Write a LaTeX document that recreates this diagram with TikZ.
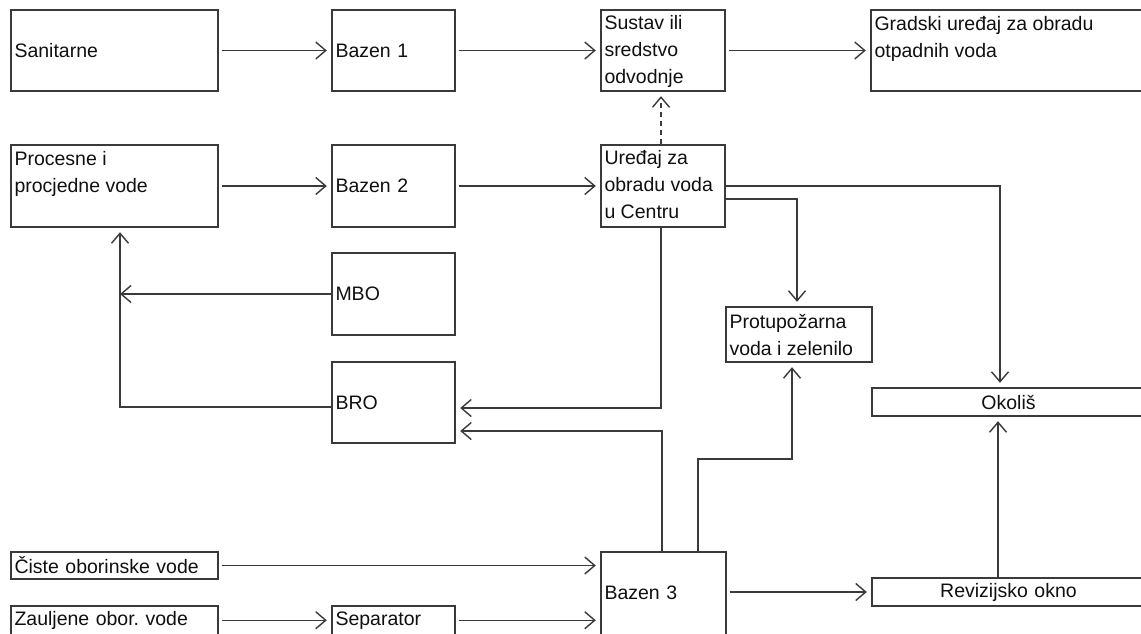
\documentclass[tikz,border=0pt]{standalone}
\usepackage{fontspec}
\setmainfont{Liberation Sans}
\usetikzlibrary{arrows.meta,calc}
\definecolor{lc}{HTML}{3A3A3A}
\definecolor{tc}{HTML}{101010}
\frenchspacing
\begin{document}
\begin{tikzpicture}[x=1pt,y=-1pt,
  box/.style={draw=lc, line width=1.4pt, inner xsep=3.5pt, inner ysep=0pt, align=left, text=tc, font=\fontsize{19.5}{27}\selectfont},
  txt/.style={inner sep=0pt, align=left, text=tc, font=\fontsize{19.5}{27}\selectfont},
  con/.style={draw=lc, line width=1.4pt},
  arr/.style={con, -{Straight Barb[length=10pt,width=17pt]}, shorten >=4.5pt},
  ]
\useasboundingbox (0,0) rectangle (1141,633);
\fill[white] (0,0) rectangle (1141,633);
\clip (0,0) rectangle (1141,633);

% boxes
\node[box, text width=200pt, minimum height=81pt] (san) at (114.5,50.5) {Sanitarne};
\node[box, text width=116pt, minimum height=81pt] (b1) at (393.5,50.5) {Bazen 1};
\node[box, text width=117pt, minimum height=81pt] (sus) at (663,50.5) {};
\node[box, text width=267pt, minimum height=81pt] (grad) at (1008,50.5) {};
\node[box, text width=200pt, minimum height=82pt] (proc) at (114.5,186) {};
\node[box, text width=116pt, minimum height=82pt] (b2) at (393.5,186) {Bazen 2};
\node[box, text width=117pt, minimum height=82pt] (ure) at (663,186) {};
\node[box, text width=116pt, minimum height=82pt] (mbo) at (393.5,294) {MBO};
\node[box, text width=116pt, minimum height=81pt] (bro) at (393.5,402.5) {BRO};
\node[box, text width=139pt, minimum height=55pt] (prot) at (799,334.5) {};
\node[box, text width=266pt, minimum height=28pt, align=center] (oko) at (1008.5,402) {Okoliš};
\node[box, text width=266pt, minimum height=28pt, align=center] (rev) at (1008.5,592) {Revizijsko okno};
\node[box, text width=118pt, minimum height=82.5pt] (b3) at (663.5,593.25) {Bazen 3};
\node[box, text width=200pt, minimum height=27pt] (cis) at (114.5,565.5) {Čiste oborinske vode};
\node[box, text width=200pt, minimum height=28.5pt] (zau) at (114.5,620.25) {Zauljene obor. vode};
\node[box, text width=116pt, minimum height=28.5pt] (sep) at (393.5,620.25) {Separator};

% multi-line texts
\node[txt, anchor=north west] (sus-t) at ([shift={(4,6)}]sus.north west) {Sustav ili\\sredstvo\\odvodnje};
\node[txt, anchor=north west] (grad-t) at ([shift={(4,7)}]grad.north west) {Gradski uređaj za obradu\\otpadnih voda};
\node[txt, anchor=north west] (proc-t) at ([shift={(4,7)}]proc.north west) {Procesne i\\procjedne vode};
\node[txt, anchor=north west] (ure-t) at ([shift={(4,6)}]ure.north west) {Uređaj za\\obradu voda\\u Centru};
\node[txt, anchor=north west] (prot-t) at ([shift={(4,8)}]prot.north west) {Protupožarna\\voda i zelenilo};

% helper coordinates
\coordinate (okx) at (1000,0);
\coordinate (okx2) at (998,0);
\coordinate (lx) at (120,0);
\coordinate (pk) at (698,459);

% connectors
\draw[arr, shorten <=3pt] (san.east) -- (b1.west);
\draw[arr, shorten <=3pt] (b1.east) -- (sus.west);
\draw[arr, shorten <=3pt] (sus.east) -- (grad.west);
\draw[arr, shorten <=3pt] (proc.east) -- (b2.west);
\draw[arr, shorten <=3pt] (b2.east) -- (ure.west);
\draw[arr, dash pattern=on 5pt off 4pt] ([xshift=-2pt]ure.north) -- ([xshift=-2pt]sus.south);
\draw[arr] (ure.east) -| (okx |- oko.north);
\draw[arr] ([yshift=-13pt]ure.east) -| ([xshift=-2pt]prot.north);
\draw[arr] ([xshift=-2pt]ure.south) |- ([yshift=-5.5pt]bro.east);
\draw[arr] ([xshift=-1.5pt]b3.north) |- ([yshift=-28.5pt]bro.east);
\draw[arr] (b3.north -| pk) -- (pk) -| ([xshift=-7pt]prot.south);
\draw[arr, shorten >=0pt] (mbo.west) -- (mbo.west -| lx);
\draw[arr] ([yshift=-4.5pt]bro.west) -| (lx |- proc.south);
\draw[arr, shorten <=3pt] (cis.east) -- (cis.east -| b3.west);
\draw[arr, shorten <=3pt] (zau.east) -- (zau.east -| sep.west);
\draw[arr, shorten <=3pt] (sep.east) -- (sep.east -| b3.west);
\draw[arr, shorten <=3pt] (rev.west -| b3.east) -- (rev.west);
\draw[arr] (okx2 |- rev.north) -- (okx2 |- oko.south);
\end{tikzpicture}
\end{document}
